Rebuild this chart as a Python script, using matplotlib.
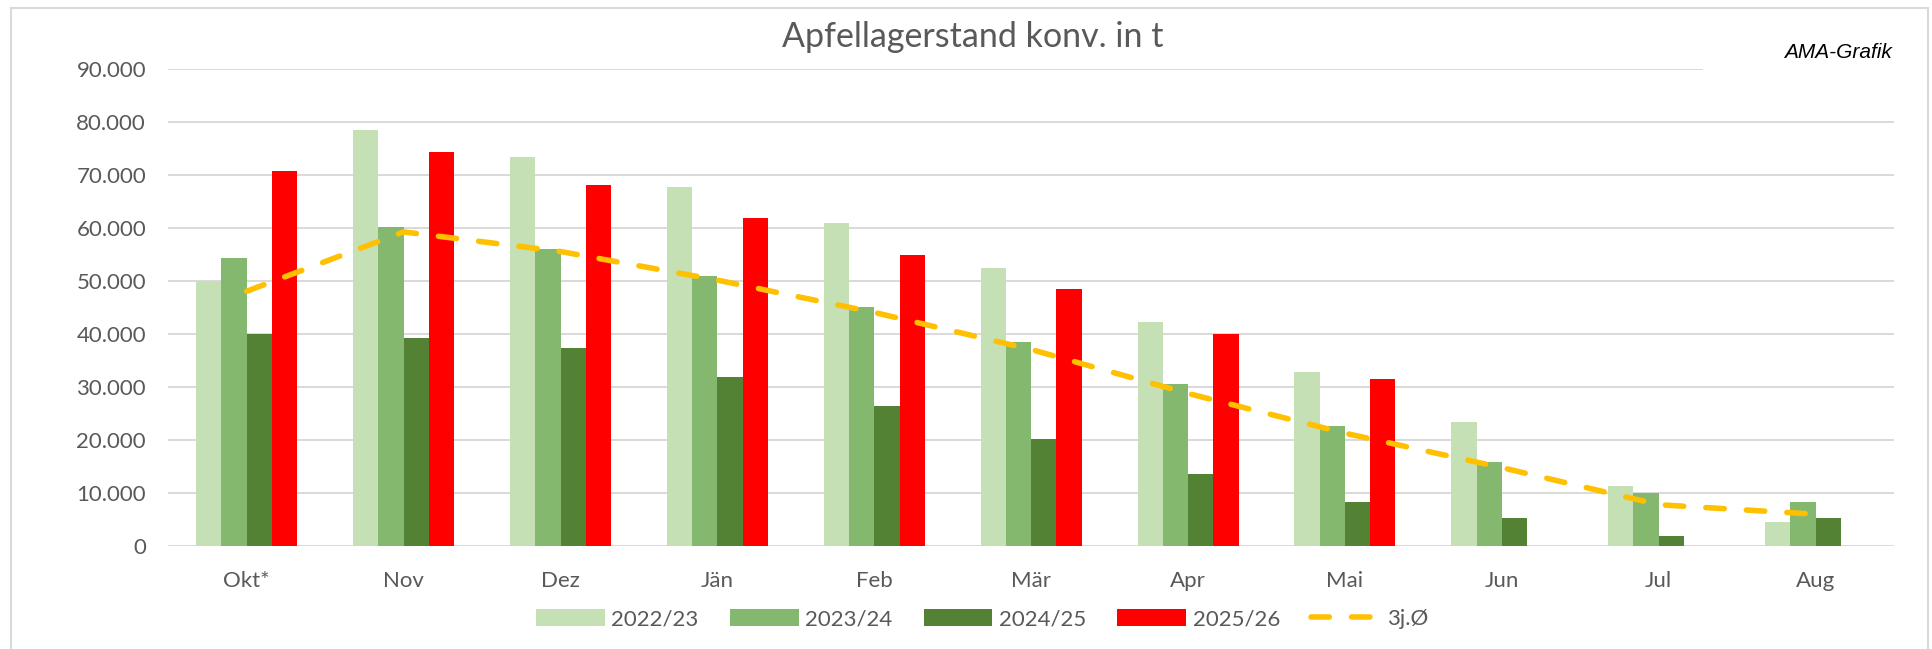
import matplotlib
matplotlib.use("Agg")
import matplotlib.pyplot as plt
import numpy as np
from matplotlib.patches import Rectangle
from matplotlib.ticker import FuncFormatter, MultipleLocator

months = ["Okt*", "Nov", "Dez", "Jän", "Feb", "Mär", "Apr", "Mai", "Jun", "Jul", "Aug"]
s2022 = [50000, 78500, 73350, 67700, 60900, 52550, 42200, 32900, 23500, 11400, 4500]
s2023 = [54300, 60200, 56100, 51000, 45100, 38500, 30600, 22600, 15800, 10100, 8400]
s2024 = [40000, 39300, 37400, 32000, 26400, 20200, 13500, 8250, 5200, 1800, 5200]
s2025 = [70750, 74300, 68200, 62000, 55000, 48500, 40000, 31550, np.nan, np.nan, np.nan]
avg3 = [48100, 59300, 55600, 50200, 44100, 37100, 28800, 21300, 14800, 7800, 6000]

series_labels = ["2022/23", "2023/24", "2024/25", "2025/26"]
colors = ["#C5E0B4", "#83B86E", "#548235", "#FF0000"]
line_label = "3j.Ø"
title = "Apfellagerstand konv. in t"
credit = "AMA-Grafik"

W, H = 1932, 649
fig = plt.figure(figsize=(W / 100, H / 100), dpi=100)
fig.patch.set_facecolor("white")
ax = fig.add_axes([168.3 / W, (H - 546) / H, (1894 - 168.3) / W, (546 - 69.3) / H])

font = "Lato"
txtcol = "#595959"

x = np.arange(len(months))
bw = 0.161
bars = []
for i, (vals, c, lab) in enumerate(zip([s2022, s2023, s2024, s2025], colors, series_labels)):
    b = ax.bar(x + (i - 1.5) * bw, vals, width=bw, color=c, label=lab, zorder=3, linewidth=0)
    bars.append(b)

ln, = ax.plot(x, avg3, color="#FFC000", lw=4.0, dashes=(3.3, 4.0), dash_capstyle="round",
              zorder=4, label=line_label)

ax.set_xlim(-0.5, len(months) - 0.5)
ax.set_ylim(0, 90000)
ax.yaxis.set_major_locator(MultipleLocator(10000))
ax.yaxis.set_major_formatter(FuncFormatter(lambda v, p: f"{int(v):,}".replace(",", ".")))
ax.grid(axis="y", color="#D9D9D9", lw=1.4, zorder=0)
ax.set_axisbelow(True)
for s in ax.spines.values():
    s.set_visible(False)
ax.set_xticks(x)
ax.set_xticklabels(months)
ax.tick_params(axis="both", length=0, labelsize=16, labelcolor=txtcol)
ax.tick_params(axis="y", pad=16)
ax.tick_params(axis="x", pad=18)
for lbl in ax.get_xticklabels() + ax.get_yticklabels():
    lbl.set_fontfamily(font)

handles = bars + [ln]
labels = series_labels + [line_label]
leg = fig.legend(handles, labels, loc="center", bbox_to_anchor=(982 / W, (H - 619) / H),
                 ncol=5, frameon=False, prop={"family": font, "size": 16},
                 handlelength=3.1, handleheight=0.8, handletextpad=0.3, columnspacing=1.4)
for t in leg.get_texts():
    t.set_color(txtcol)

fig.text(973 / W, 1 - 37 / H, title, ha="center", va="center", fontsize=24.5,
         color=txtcol, family=font)

# white mask behind credit text (covers end of top gridline)
fig.add_artist(Rectangle((1703 / W, 1 - 78 / H), (1900 - 1703) / W, 40 / H,
                         transform=fig.transFigure, facecolor="white", edgecolor="none", zorder=5))
fig.text(1892 / W, 1 - 53 / H, credit, ha="right", va="center", fontsize=15,
         color="black", family="Liberation Sans", style="italic", zorder=6)

# outer frame
fig.add_artist(Rectangle((10.7 / W, -0.02), (1928 - 10.7) / W, 1.02 - 8.3 / H,
                         transform=fig.transFigure, fill=False, edgecolor="#D9D9D9", lw=1.5, zorder=1))

fig.savefig("out.png", dpi=100, facecolor="white")
